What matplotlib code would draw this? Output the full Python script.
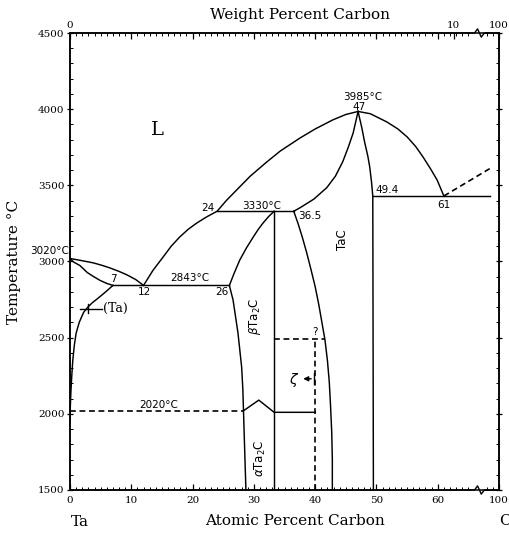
import matplotlib
matplotlib.use('Agg')
import matplotlib.pyplot as plt
import matplotlib.transforms as mtransforms

# Ta-C phase diagram: x = atomic percent carbon, y = temperature in degC
liquidus_ta = ([0.0, 2.0, 3.8, 5.2, 6.5, 8.0, 9.3, 10.7, 12.0],
               [3020, 3005, 2991, 2975, 2958, 2935, 2912, 2882, 2843])
solidus_ta = ([0.0, 0.6, 1.6, 2.8, 3.8, 4.9, 6.0, 7.0],
              [3020, 2996, 2974, 2928, 2902, 2876, 2856, 2843])
solvus_ta = ([7.0, 5.8, 4.6, 3.6, 2.9, 2.2, 1.5, 1.0, 0.7, 0.45, 0.3, 0.15, 0.05, 0.0],
             [2843, 2800, 2760, 2728, 2700, 2665, 2600, 2530, 2450, 2350, 2260, 2150, 2050, 1950])
liquidus_mid = ([12.0, 13.5, 15.2, 16.5, 17.9, 19.3, 20.7, 22.3, 24.0, 25.5, 27.2, 29.4,
                 32.0, 34.3, 37.5, 40.0, 42.9, 45.0, 47.0],
                [2843, 2940, 3030, 3100, 3161, 3212, 3253, 3293, 3330, 3400, 3470, 3560,
                 3650, 3725, 3810, 3870, 3930, 3965, 3985])
liquidus_c = ([47.0, 49.0, 51.7, 53.5, 55.0, 56.4, 57.6, 58.8, 59.9, 61.0],
              [3985, 3970, 3916, 3870, 3818, 3755, 3686, 3610, 3535, 3430])
liquidus_c_dashed = ([61.0, 68.5], [3430, 3610])
tac_left_upper = ([47.0, 46.2, 45.4, 44.5, 43.3, 41.9, 39.8, 37.5, 36.5],
                  [3985, 3844, 3750, 3655, 3560, 3485, 3410, 3352, 3330])
tac_left_lower = ([36.5, 37.2, 37.9, 38.6, 39.3, 40.0, 40.6, 41.1, 41.6, 42.0, 42.3, 42.5,
                   42.7, 42.8, 42.8],
                  [3330, 3250, 3160, 3060, 2950, 2835, 2715, 2600, 2485, 2350, 2210, 2060,
                   1880, 1700, 1500])
tac_right = ([47.0, 47.6, 48.1, 48.6, 48.9, 49.2, 49.4, 49.5],
             [3985, 3880, 3778, 3690, 3621, 3520, 3430, 1500])
ta2c_left = ([33.3, 32.4, 31.5, 30.7, 29.9, 28.8, 27.7, 26.8, 26.0, 26.3, 26.6, 27.0, 27.4,
              27.7, 28.0, 28.2, 28.3, 28.5, 28.7],
             [3330, 3295, 3253, 3210, 3161, 3090, 3010, 2925, 2843, 2795, 2748, 2640, 2532,
              2420, 2308, 2160, 2026, 1760, 1500])
ta2c_right = ([33.3, 33.3], [3330, 1500])
eutectic_2843 = ([7.0, 26.0], [2843, 2843])
peritectic_3330 = ([24.0, 36.5], [3330, 3330])
eutectic_c = ([49.4, 68.5], [3430, 3430])
transition_dashed = ([0.0, 28.3], [2020, 2020])
transition_bump = ([28.3, 30.8, 33.3, 40.0], [2020, 2090, 2010, 2010])
zeta_vertical = ([40.0, 40.0], [1500, 2490])
zeta_top = ([33.3, 41.6], [2490, 2490])

# labels: (text, x, y)
labels_sans = [('3020°C', -3.3, 3070), ('7', 7.1, 2882), ('12', 12.1, 2800),
               ('2843°C', 19.6, 2893), ('26', 24.8, 2800), ('24', 22.5, 3352),
               ('3330°C', 31.3, 3362), ('36.5', 39.2, 3300), ('3985°C', 47.8, 4082),
               ('47', 47.1, 4016), ('49.4', 51.7, 3470), ('61', 61.0, 3371),
               ('2020°C', 14.4, 2059), ('?', 40.0, 2538)]

at_ticks = [0, 10, 20, 30, 40, 50, 60, 70]
at_ticklabels = ['0', '10', '20', '30', '40', '50', '60', '100']
wt_ticks = [0, 10, 20, 30, 40, 50, 60, 62.6, 70]
wt_ticklabels = ['0', '', '', '', '', '', '', '10', '100']
temp_ticks = [1500, 2000, 2500, 3000, 3500, 4000, 4500]

fig = plt.figure(figsize=(5.10, 5.34), dpi=100)
ax = fig.add_axes([0.1373, 0.0824, 0.8412, 0.8558])
ax.set_xlim(0, 70)
ax.set_ylim(1500, 4500)

solid = dict(color='black', lw=1.05)
dashed = dict(color='black', lw=1.2, linestyle=(0, (3.5, 2.2)))

for curve in [liquidus_ta, solidus_ta, solvus_ta, liquidus_mid, liquidus_c,
              tac_left_upper, tac_left_lower, tac_right, ta2c_left, ta2c_right,
              eutectic_2843, peritectic_3330, eutectic_c, transition_bump]:
    ax.plot(curve[0], curve[1], solid_joinstyle='round', **solid)
for curve in [liquidus_c_dashed, transition_dashed, zeta_vertical, zeta_top]:
    ax.plot(curve[0], curve[1], **dashed)

for txt, x, y in labels_sans:
    ax.text(x, y, txt, ha='center', va='center', fontsize=7.5,
            family='DejaVu Sans', clip_on=False)

ax.text(14.2, 3864, 'L', ha='center', va='center', fontsize=14, family='DejaVu Serif')
ax.text(44.4, 3142, 'TaC', ha='center', va='center', fontsize=8.5, rotation=90,
        family='DejaVu Sans')
ax.text(30.2, 2637, r'$\beta$Ta$_2$C', ha='center', va='center', fontsize=8.5,
        rotation=90, family='DejaVu Sans')
ax.text(31.0, 1711, r'$\alpha$Ta$_2$C', ha='center', va='center', fontsize=8.5,
        rotation=90, family='DejaVu Sans')
ax.text(36.6, 2223, r'$\zeta$', ha='center', va='center', fontsize=10, family='DejaVu Serif')
ax.annotate('', xy=(37.6, 2230), xytext=(39.8, 2230),
            arrowprops=dict(arrowstyle='-|>', color='black', lw=1.0, mutation_scale=7))
ax.plot([39.8, 39.8], [2195, 2265], color='black', lw=1.0)

# (Ta) label with pointer to the solvus
ax.text(5.4, 2690, '(Ta)', ha='left', va='center', fontsize=9, family='DejaVu Serif')
ax.plot([1.6, 5.2], [2690, 2690], color='black', lw=1.0)
ax.plot([2.9, 2.9], [2660, 2720], color='black', lw=1.0)

# ticks
ax.set_xticks(at_ticks)
ax.set_xticklabels(at_ticklabels, family='DejaVu Serif', fontsize=7.5)
ax.set_xticks(list(range(0, 66)) + [68, 69, 70], minor=True)
ax.set_yticks(temp_ticks)
ax.set_yticklabels([str(t) for t in temp_ticks], family='DejaVu Serif', fontsize=7.5)
ax.set_yticks(list(range(1500, 4501, 100)), minor=True)
ax.tick_params(axis='x', which='major', direction='in', length=4, width=0.9, pad=4)
ax.tick_params(axis='y', which='major', direction='inout', length=6, width=0.9, pad=2)
ax.tick_params(axis='y', which='major', right=True, labelright=False, length=4)
ax.tick_params(which='minor', direction='in', length=2.2, width=0.7, right=True)

top = ax.twiny()
top.set_xlim(ax.get_xlim())
top.set_xticks(wt_ticks)
top.set_xticklabels(wt_ticklabels, family='DejaVu Serif', fontsize=7.5)
top.set_xticks(list(range(0, 66)) + [68, 69, 70], minor=True)
top.tick_params(which='major', direction='in', length=4, width=0.9, pad=2)
top.tick_params(which='minor', direction='in', length=2.2, width=0.7)

for spine in list(ax.spines.values()) + list(top.spines.values()):
    spine.set_linewidth(1.1)

# axis breaks
trans = mtransforms.blended_transform_factory(ax.transData, ax.transAxes)
for y0 in (0.0, 1.0):
    ax.plot([65.6, 67.4], [y0, y0], color='white', lw=3, transform=trans,
            clip_on=False, zorder=5)
    ax.plot([65.0, 66.0, 66.5, 67.1, 67.6, 68.2], [y0, y0, y0 + 0.009, y0 - 0.009, y0, y0],
            color='black', lw=1.0, transform=trans, clip_on=False, zorder=6)

fig.text(0.588, 0.972, 'Weight Percent Carbon', ha='center', va='center',
         fontsize=11, family='DejaVu Serif')
fig.text(0.578, 0.024, 'Atomic Percent Carbon', ha='center', va='center',
         fontsize=11, family='DejaVu Serif')
fig.text(0.028, 0.51, 'Temperature °C', ha='center', va='center', rotation=90,
         fontsize=11, family='DejaVu Serif')
fig.text(0.157, 0.022, 'Ta', ha='center', va='center', fontsize=11, family='DejaVu Serif')
fig.text(0.99, 0.024, 'C', ha='center', va='center', fontsize=11, family='DejaVu Serif')

fig.savefig('out.png', dpi=100, facecolor='white')
